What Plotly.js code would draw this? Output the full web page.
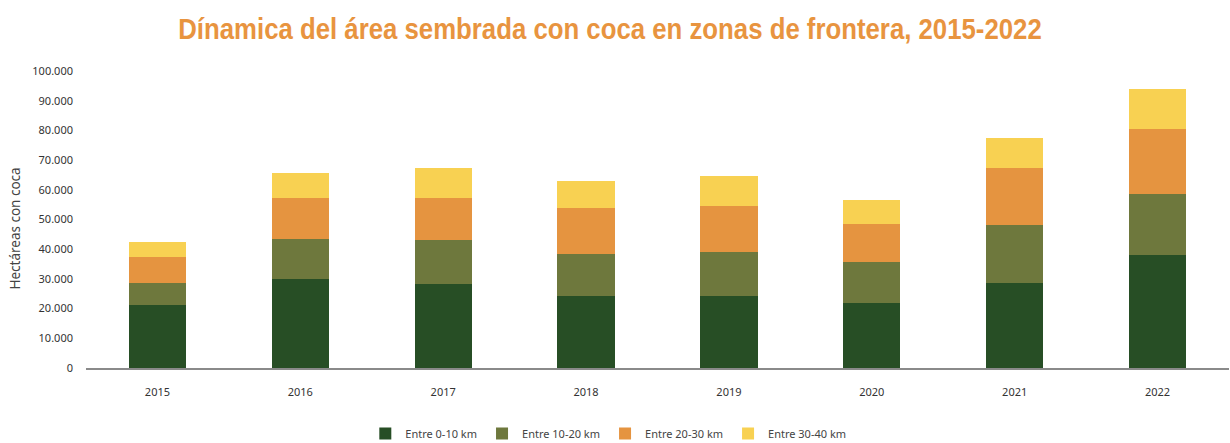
<!DOCTYPE html>
<html><head><meta charset="utf-8">
<script src="https://cdn.plot.ly/plotly-3.0.1.min.js"></script>
<style>html,body{margin:0;padding:0;background:#fff;}#chart{width:1230px;height:443px;}</style>
</head><body><div id="chart"></div>
<script>
const years = ['2015','2016','2017','2018','2019','2020','2021','2022'];
const seriesNames = ['Entre 0-10 km','Entre 10-20 km','Entre 20-30 km','Entre 30-40 km'];
const km0_10  = [21100, 30100, 28200, 24100, 24400, 21800, 28700, 37900];
const km10_20 = [7600, 13500, 14900, 14400, 14800, 13800, 19600, 20700];
const km20_30 = [8600, 13800, 14300, 15300, 15400, 13000, 18900, 21800];
const km30_40 = [5200, 8300, 9800, 9000, 9900, 8100, 10100, 13500];
const colors = ['#274E25','#6E783D','#E59440','#F8D152'];
const values = [km0_10, km10_20, km20_30, km30_40];

const traces = values.map((v,i)=>({
  type:'bar', x:years, y:v, name:seriesNames[i],
  marker:{color:colors[i], line:{width:0}},
  hoverinfo:'none'
}));

const layout = {
  width:1230, height:443,
  barmode:'stack', bargap:0.6,
  margin:{l:86, r:1, t:71, b:75},
  paper_bgcolor:'#fff', plot_bgcolor:'#fff',
  separators:',.',
  title:{text:'Dínamica del área sembrada con coca en zonas de frontera, 2015-2022',
    font:{family:'Liberation Sans, Arial, sans-serif', size:30, color:'#E8943F', weight:700},
    x:0.496, xanchor:'center', y:0.935, yanchor:'middle'},
  xaxis:{type:'category', showgrid:false, zeroline:false, showline:true, linecolor:'#8a8a8a', linewidth:2,
    ticks:'', tickfont:{family:'Noto Sans, sans-serif', size:11, color:'#333'}, ticklabelstandoff:13},
  yaxis:{range:[0,100000], dtick:10000, tickformat:',d', showgrid:false, zeroline:false, showline:false,
    ticks:'', tickfont:{family:'Noto Sans, sans-serif', size:11, color:'#333'}, ticklabelstandoff:12},
  showlegend:true,
  legend:{orientation:'h', xref:'container', yref:'container', x:0.297, xanchor:'left', y:0.054, yanchor:'top',
    font:{family:'Noto Sans, sans-serif', size:11, color:'#444'}, traceorder:'normal', itemclick:false},
  annotations:[{text:'Hectáreas con coca', textangle:-90, xref:'paper', yref:'paper',
    x:-0.062, y:0.47, xanchor:'center', yanchor:'middle', showarrow:false,
    font:{family:'Noto Sans, sans-serif', size:13.5, color:'#444'}}]
};
function squeezeTitle(){
  const t = document.querySelector('#chart .gtitle');
  if(!t) return;
  t.removeAttribute('transform');
  const bb = t.getBBox();
  const cx = 610, s = 864/bb.width;
  t.setAttribute('transform', `translate(${cx},0) scale(${s},1) translate(${-(bb.x+bb.width/2)},0)`);
}
Plotly.newPlot('chart', traces, layout, {displayModeBar:false, staticPlot:true}).then(squeezeTitle);
</script></body></html>
